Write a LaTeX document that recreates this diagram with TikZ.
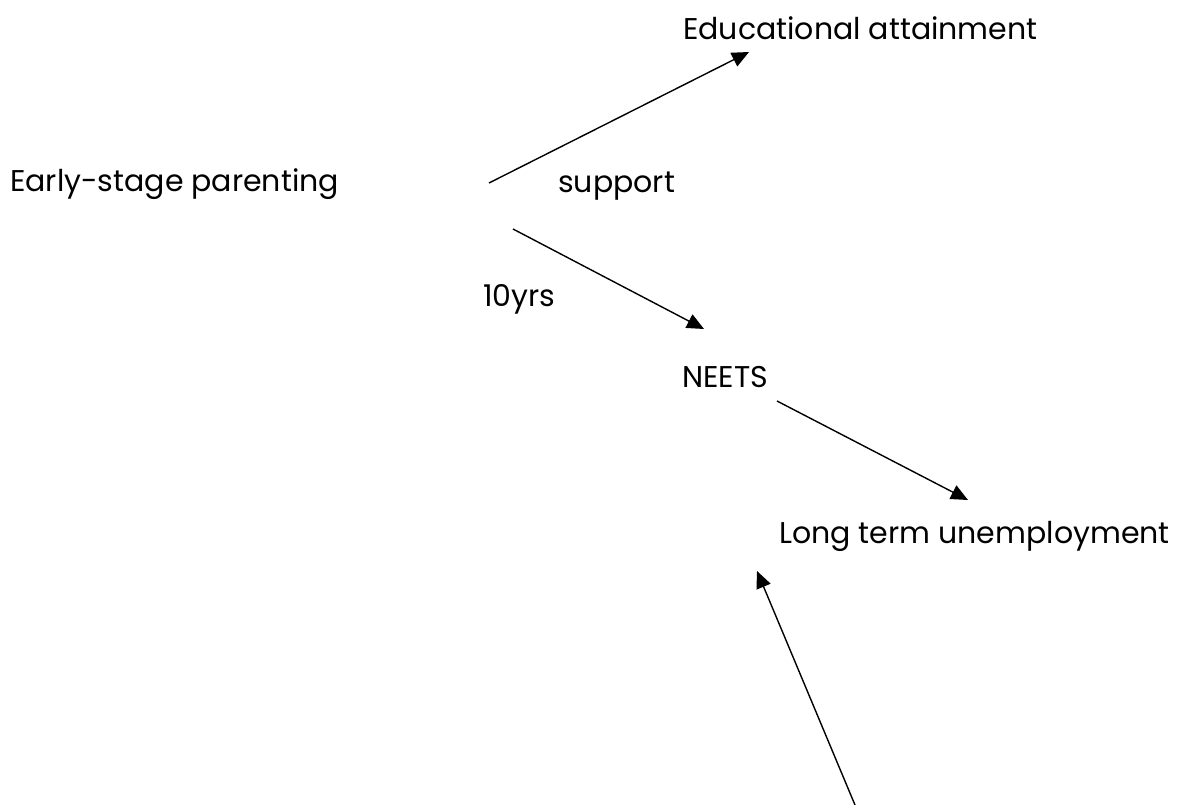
\documentclass[tikz,border=0pt]{standalone}
\usepackage{fontspec}
\setmainfont{Poppins}
\usetikzlibrary{arrows.meta}
\begin{document}
\begin{tikzpicture}[x=1pt,y=-1pt,
  lbl/.style={anchor=west,inner sep=0pt,font=\fontsize{30}{35}\selectfont},
  conn/.style={line width=1.4pt,-{Triangle[length=17pt,width=15pt]}}]
\useasboundingbox (0,0) rectangle (1185,805);
\node[lbl] (edu) at (683,28) {Educational attainment};
\node[lbl] (esp) at (10,184) {Early-stage parenting};
\node[lbl] (sup) at (558,186) {support};
\node[lbl] (yrs) at (483,299) {10yrs};
\node[lbl] (neet) at (682,377) {NEETS};
\node[lbl] (ltu) at (779,536) {Long term unemployment};
\coordinate (a1) at (489,183);
\coordinate (b1) at (749,52);
\coordinate (a2) at (513,229);
\coordinate (b2) at (704,329);
\coordinate (a3) at (777,401);
\coordinate (b3) at (968,500);
\coordinate (a4) at (855,805);
\coordinate (b4) at (757,571);
\draw[conn] (a1) -- (b1);
\draw[conn] (a2) -- (b2);
\draw[conn] (a3) -- (b3);
\draw[conn] (a4) -- (b4);
\end{tikzpicture}
\end{document}
